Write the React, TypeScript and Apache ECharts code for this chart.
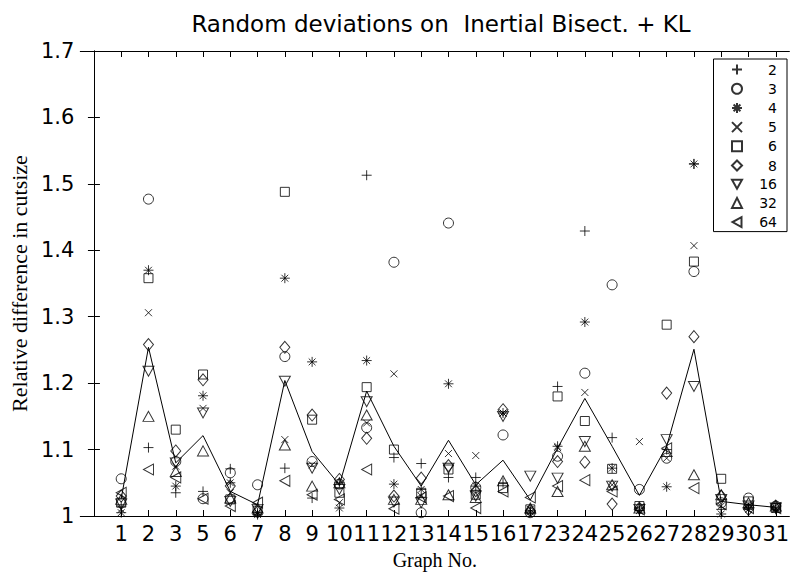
import React, { useEffect, useRef } from 'react';
import * as echarts from 'echarts';

const graphNos = ['1','2','3','5','6','7','8','9','10','11','12','13','14','15','16','17','23','24','25','26','27','28','29','30','31'];
const seriesNames = ['2','3','4','5','6','8','16','32','64'];

const p2  = [1.015,1.103,1.035,1.037,1.071,1.005,1.072,1.027,1.050,1.513,1.088,1.079,1.058,1.058,1.050,1.008,1.195,1.429,1.118,1.012,1.100,1.530,1.010,1.012,1.012];
const p3  = [1.056,1.477,1.082,1.026,1.065,1.047,1.240,1.082,1.048,1.133,1.382,1.005,1.441,1.043,1.122,1.005,1.090,1.215,1.348,1.040,1.087,1.368,1.020,1.027,1.015];
const p4  = [1.005,1.370,1.045,1.181,1.050,1.002,1.358,1.232,1.012,1.234,1.048,1.040,1.199,1.045,1.155,1.006,1.105,1.292,1.072,1.008,1.044,1.530,1.003,1.010,1.010];
const p5  = [1.010,1.306,1.075,1.162,1.035,1.005,1.115,1.077,1.020,1.140,1.214,1.030,1.094,1.091,1.155,1.010,1.103,1.186,1.047,1.112,1.087,1.407,1.015,1.015,1.012];
const p6  = [1.020,1.358,1.130,1.213,1.025,1.008,1.488,1.145,1.035,1.194,1.100,1.035,1.070,1.032,1.042,1.010,1.180,1.143,1.071,1.015,1.288,1.383,1.056,1.022,1.012];
const p8  = [1.030,1.258,1.098,1.205,1.045,1.006,1.254,1.152,1.055,1.117,1.030,1.057,1.076,1.038,1.160,1.008,1.082,1.081,1.018,1.012,1.185,1.270,1.030,1.010,1.015];
const p16 = [1.018,1.218,1.080,1.155,1.022,1.010,1.203,1.072,1.040,1.172,1.021,1.020,1.072,1.030,1.150,1.060,1.057,1.112,1.045,1.010,1.115,1.195,1.025,1.015,1.012];
const p32 = [1.025,1.150,1.067,1.098,1.027,1.012,1.107,1.045,1.050,1.152,1.025,1.025,1.032,1.028,1.053,1.012,1.037,1.105,1.047,1.012,1.097,1.062,1.032,1.020,1.015];
const p64 = [1.035,1.070,1.058,1.026,1.015,1.020,1.053,1.032,1.025,1.070,1.011,1.028,1.030,1.012,1.037,1.028,1.045,1.054,1.037,1.010,1.102,1.042,1.018,1.012,1.012];
const meanLine = [1.026,1.254,1.080,1.121,1.037,1.017,1.204,1.097,1.047,1.188,1.105,1.045,1.114,1.047,1.084,1.024,1.102,1.177,1.105,1.031,1.105,1.251,1.022,1.017,1.013];

const allSeries = [p2, p3, p4, p5, p6, p8, p16, p32, p64];

const symbolDefs: { symbol: string; size: number | number[] }[] = [
  { symbol: 'path://M5 0L5 10M0 5L10 5', size: 10 },
  { symbol: 'circle', size: 10 },
  { symbol: 'path://M5 0L5 10M0 5L10 5M1.6 1.6L8.4 8.4M8.4 1.6L1.6 8.4', size: 10 },
  { symbol: 'path://M0 0L10 10M10 0L0 10', size: 7 },
  { symbol: 'rect', size: 9 },
  { symbol: 'diamond', size: [10, 12] },
  { symbol: 'path://M0 0L10 0L5 9Z', size: [11, 10] },
  { symbol: 'triangle', size: [11, 10] },
  { symbol: 'path://M9 0L9 10L0 5Z', size: [10, 11] },
];

const tickFont = 'DejaVu Sans';
const serifFont = 'Liberation Serif';

export default function App() {
  const ref = useRef<HTMLDivElement>(null);
  useEffect(() => {
    if (!ref.current) return;
    const chart = echarts.init(ref.current, undefined, { renderer: 'svg' });
    const positions = graphNos.map((_, i) => i + 1);
    const axisLine = { show: true, lineStyle: { color: '#000', width: 1 } };
    const scatterSeries = seriesNames.map((name, k) => ({
      name,
      type: 'scatter',
      xAxisIndex: 0,
      yAxisIndex: 0,
      symbol: symbolDefs[k].symbol,
      symbolSize: symbolDefs[k].size,
      itemStyle: { color: 'none', borderColor: '#000', borderWidth: 1 },
      emphasis: { disabled: true },
      data: allSeries[k].map((v, i) => [i + 1, v]),
      z: 3,
    }));
    chart.setOption({
      animation: false,
      backgroundColor: '#fff',
      title: {
        text: 'Random deviations on  Inertial Bisect. + KL',
        left: 436,
        top: 7,
        textAlign: 'center',
        textStyle: { fontFamily: tickFont, fontSize: 23, fontWeight: 'normal', color: '#000' },
      },
      legend: {
        data: seriesNames,
        orient: 'vertical',
        right: 5,
        top: 59,
        itemWidth: 10,
        itemHeight: 10,
        itemGap: 4.2,
        padding: [3, 10, 2, 16],
        borderColor: '#000',
        borderWidth: 1,
        backgroundColor: '#fff',
        selectedMode: false,
        formatter: (n: string) => `{a|${n}}`,
        textStyle: {
          color: '#000',
          fontFamily: tickFont,
          fontSize: 14,
          rich: { a: { width: 30, align: 'right', fontFamily: tickFont, fontSize: 14, color: '#000' } },
        },
      },
      grid: { left: 74, top: 51, width: 721.5, height: 467 },
      xAxis: [
        {
          type: 'value',
          min: -0.5,
          max: 25.5,
          position: 'bottom',
          axisLine,
          axisTick: { show: true, inside: true, length: 6, customValues: positions, lineStyle: { color: '#000' } },
          axisLabel: {
            customValues: positions,
            formatter: (v: number) => graphNos[Math.round(v) - 1] ?? '',
            fontFamily: tickFont,
            fontSize: 21,
            color: '#000',
            margin: 7,
          },
          splitLine: { show: false },
          name: 'Graph No.',
          nameLocation: 'middle',
          nameGap: 34,
          nameTextStyle: { fontFamily: serifFont, fontSize: 20, color: '#000' },
        },
        {
          type: 'value',
          min: -0.5,
          max: 25.5,
          position: 'top',
          axisLine,
          axisTick: { show: true, inside: true, length: 6, customValues: positions, lineStyle: { color: '#000' } },
          axisLabel: { show: false },
          splitLine: { show: false },
        },
      ],
      yAxis: [
        {
          type: 'value',
          min: 1,
          max: 1.7,
          interval: 0.1,
          position: 'left',
          axisLine,
          axisTick: { show: true, inside: true, length: 6, lineStyle: { color: '#000' } },
          axisLabel: {
            formatter: (v: number) => String(Math.round(v * 10) / 10),
            fontFamily: tickFont,
            fontSize: 21,
            color: '#000',
            margin: 6,
          },
          splitLine: { show: false },
          name: 'Relative difference in cutsize',
          nameLocation: 'middle',
          nameGap: 42,
          nameRotate: 90,
          nameTextStyle: { fontFamily: serifFont, fontSize: 22, color: '#000' },
        },
        {
          type: 'value',
          min: 1,
          max: 1.7,
          interval: 0.1,
          position: 'right',
          axisLine,
          axisTick: { show: true, inside: true, length: 6, lineStyle: { color: '#000' } },
          axisLabel: { show: false },
          splitLine: { show: false },
        },
      ],
      series: [
        {
          name: 'mean',
          type: 'line',
          xAxisIndex: 0,
          yAxisIndex: 0,
          symbol: 'none',
          lineStyle: { color: '#000', width: 1 },
          emphasis: { disabled: true },
          data: meanLine.map((v, i) => [i + 1, v]),
          z: 2,
        },
        ...scatterSeries,
      ],
    });
    return () => chart.dispose();
  }, []);
  return <div ref={ref} style={{ position: 'absolute', left: 0, top: 0, width: 792, height: 575 }} />;
}
